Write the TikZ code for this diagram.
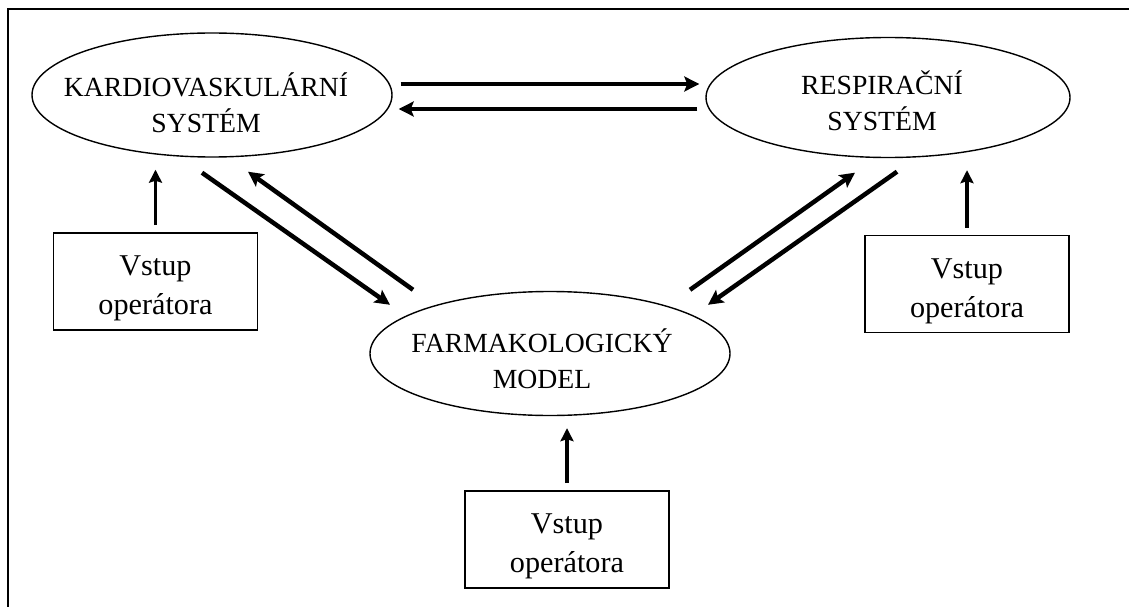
\documentclass[tikz,border=0pt]{standalone}
\usepackage{fontspec}
\setmainfont{Liberation Serif}
\usepackage{tikz}
\usetikzlibrary{shapes.geometric,positioning,arrows.meta,calc}
\newcommand{\vstup}{\rule{0pt}{34pt}Vstup\\operátora}
\tikzset{
  >=Stealth,
}

\begin{document}
\begin{tikzpicture}[
  x=1pt,y=-1pt,
  oval/.style={draw, ellipse, line width=1.4pt, minimum width=360pt, minimum height=124pt, inner sep=0pt},
  lbl/.style={align=center, inner sep=0pt, font=\fontsize{27.7}{36}\selectfont},
  box/.style={draw, line width=1.8pt, minimum width=204pt, minimum height=97pt, align=center, inner sep=0pt, font=\fontsize{30.2}{39}\selectfont},
  pair/.style={->, line width=4.5pt, >={Stealth[length=15pt,width=15pt,inset=3pt]}},
  feed/.style={->, line width=3.5pt, shorten <=7pt, shorten >=12pt, >={Stealth[length=13pt,width=13pt,inset=2pt]}}
]
\useasboundingbox (0,0) rectangle (1129,607);

% frame
\draw[line width=2.2pt] (8,607) -- (8,9) -- (1129,9);

% systems
\node[oval] (kardio) at (212,95) {};
\node[oval, minimum width=364pt, minimum height=120pt] (resp) at (888,97.5) {};
\node[oval] (farma) at (550,353.5) {};
\node[lbl] (kardio-txt) at ([shift={(-6,8)}]kardio.center) {KARDIOVASKULÁRNÍ\\SYSTÉM};
\node[lbl] (resp-txt) at ([shift={(-6,3.5)}]resp.center) {RESPIRAČNÍ\\SYSTÉM};
\node[lbl] (farma-txt) at ([shift={(-8,5)}]farma.center) {FARMAKOLOGICKÝ\\MODEL};

% operator inputs
\node[box] (vstupL) at (155.5,281.5) {\vstup};
\node[box] (vstupR) at (967,284) {\vstup};
\node[box] (vstupB) at (567,539.5) {\vstup};

\draw[feed] (vstupL.north) -- (vstupL.north |- kardio.south);
\draw[feed] (vstupR.north) -- (vstupR.north |- resp.south);
\draw[feed] (vstupB.north) -- (vstupB.north |- farma.south);

% exchanges
\draw[pair] ([shift={(8,-11)}]kardio.east) -- ([shift={(-6,-13.5)}]resp.west);
\draw[pair] ([shift={(-8,11.5)}]resp.west) -- ([shift={(6,14)}]kardio.east);
\draw[pair] ([shift={(-10,15)}]kardio.south) -- ([shift={(-160,14)}]farma.north);
\draw[pair] ([shift={(-137,-1)}]farma.north) -- ([shift={(36,14)}]kardio.south);
\draw[pair] ([shift={(140,-1)}]farma.north) -- ([shift={(-33,14.5)}]resp.south);
\draw[pair] ([shift={(9,13.5)}]resp.south) -- ([shift={(158,14)}]farma.north);

\end{tikzpicture}
\end{document}
